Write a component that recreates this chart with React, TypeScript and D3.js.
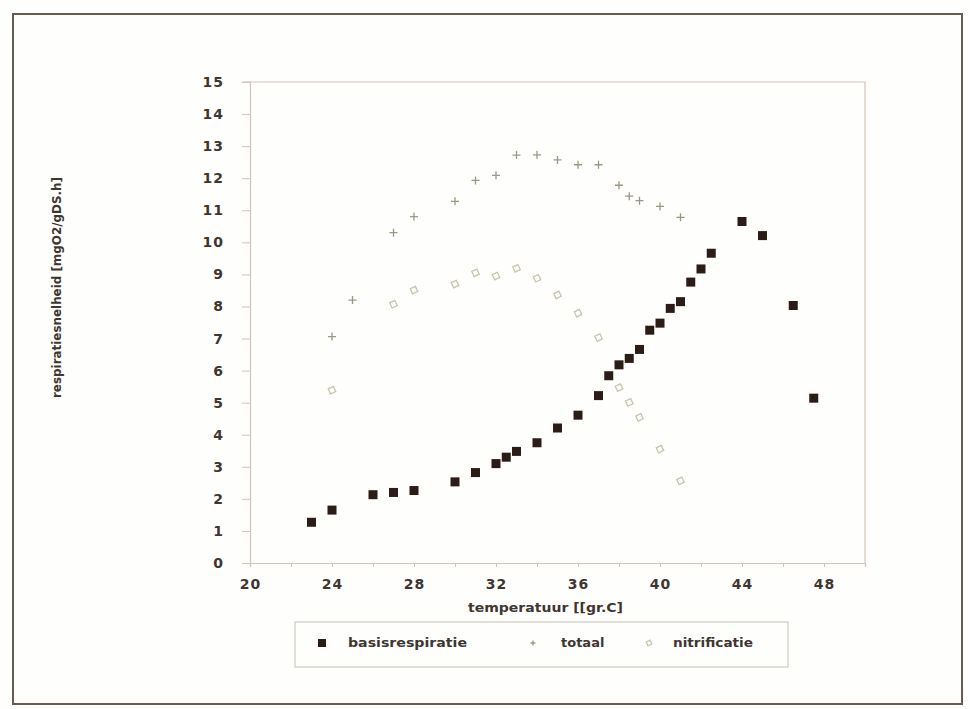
import * as d3 from 'd3';
import { useEffect, useRef } from 'react';

// temperature (gr.C) for each series
const basisTemp = [23, 24, 26, 27, 28, 30, 31, 32, 32.5, 33, 34, 35, 36, 37, 37.5, 38, 38.5, 39, 39.5, 40, 40.5, 41, 41.5, 42, 42.5, 44, 45, 46.5, 47.5];
const basisValues = [1.27, 1.65, 2.13, 2.2, 2.26, 2.53, 2.82, 3.1, 3.3, 3.48, 3.75, 4.21, 4.61, 5.22, 5.84, 6.18, 6.38, 6.66, 7.26, 7.48, 7.94, 8.15, 8.76, 9.17, 9.66, 10.65, 10.21, 8.03, 5.14];

const totaalTemp = [24, 25, 27, 28, 30, 31, 32, 33, 34, 35, 36, 37, 38, 38.5, 39, 40, 41];
const totaalValues = [7.06, 8.2, 10.3, 10.8, 11.28, 11.93, 12.09, 12.72, 12.73, 12.57, 12.42, 12.42, 11.78, 11.44, 11.3, 11.12, 10.78];

const nitriTemp = [24, 27, 28, 30, 31, 32, 33, 34, 35, 36, 37, 38, 38.5, 39, 40, 41];
const nitriValues = [5.39, 8.07, 8.51, 8.7, 9.05, 8.95, 9.19, 8.88, 8.36, 7.79, 7.03, 5.47, 5.01, 4.54, 3.55, 2.56];

const xTicks = [20, 22, 24, 26, 28, 30, 32, 34, 36, 38, 40, 42, 44, 46, 48, 50];
const xTickLabels = [20, 24, 28, 32, 36, 40, 44, 48];
const yTicks = d3.range(0, 16);

const legendLabels = ['basisrespiratie', 'totaal', 'nitrificatie'];

export default function App() {
  const svgRef = useRef(null);

  useEffect(() => {
    document.body.style.margin = '0';
    d3.select(svgRef.current).selectAll('*').remove();

    const width = 970;
    const height = 709;
    const marginLeft = 250;
    const marginRight = 105;
    const marginTop = 82;
    const marginBottom = 146;

    const textColor = '#3e3631';
    const axisColor = '#d6c2ba';
    const font = "'DejaVu Sans', Arial, sans-serif";

    const x = d3.scaleLinear([20, 50], [marginLeft, width - marginRight]);
    const y = d3.scaleLinear([0, 15], [height - marginBottom, marginTop]);

    const svg = d3.select(svgRef.current)
      .attr('viewBox', [0, 0, width, height])
      .attr('width', width)
      .attr('height', height)
      .style('display', 'block')
      .style('background', '#fefefd')
      .style('font-family', font);

    // outer frame
    svg.append('rect')
      .attr('x', 13).attr('y', 14)
      .attr('width', 949).attr('height', 690)
      .attr('fill', 'none')
      .attr('stroke', '#6a5a50')
      .attr('stroke-width', 2);

    // plot frame (top + right)
    svg.append('path')
      .attr('d', `M${x(20) - 8},${y(15)}H${x(50)}V${y(0)}`)
      .attr('fill', 'none')
      .attr('stroke', axisColor)
      .attr('stroke-width', 1.2);

    const tickText = g => g.selectAll('text')
      .attr('fill', textColor)
      .attr('font-family', font)
      .attr('font-size', 14)
      .attr('font-weight', 'bold')
      .attr('letter-spacing', 1);

    // y axis
    svg.append('g')
      .attr('transform', `translate(${marginLeft},0)`)
      .call(d3.axisLeft(y).tickValues(yTicks).tickSize(8).tickPadding(18).tickFormat(d3.format('d')))
      .call(g => g.select('.domain').attr('stroke', axisColor).attr('stroke-width', 1.2))
      .call(g => g.selectAll('.tick line').attr('stroke', axisColor))
      .call(tickText);

    // x axis
    svg.append('g')
      .attr('transform', `translate(0,${height - marginBottom})`)
      .call(d3.axisBottom(x).tickValues(xTicks).tickSize(4).tickPadding(12)
        .tickFormat(d => xTickLabels.includes(d) ? String(d) : ''))
      .call(g => g.select('.domain').attr('stroke', axisColor).attr('stroke-width', 1.2))
      .call(g => g.selectAll('.tick line').attr('stroke', axisColor))
      .call(tickText);

    // axis titles
    svg.append('text')
      .attr('x', 468).attr('y', 612)
      .attr('fill', textColor)
      .attr('font-size', 13)
      .attr('font-weight', 'bold')
      .attr('textLength', 155)
      .attr('lengthAdjust', 'spacingAndGlyphs')
      .text('temperatuur  [[gr.C]');

    svg.append('text')
      .attr('transform', 'translate(61,398) rotate(-90)')
      .attr('fill', textColor)
      .attr('font-size', 12)
      .attr('font-weight', 'bold')
      .attr('textLength', 221)
      .attr('lengthAdjust', 'spacingAndGlyphs')
      .text('respiratiesnelheid  [mgO2/gDS.h]');

    // marker shapes
    const square = (g, cx, cy, s) => g.append('rect')
      .attr('x', cx - s / 2).attr('y', cy - s / 2)
      .attr('width', s).attr('height', s)
      .attr('fill', '#2b1c17');

    const plus = (g, cx, cy, s) => g.append('path')
      .attr('d', `M${cx - s},${cy}H${cx + s}M${cx},${cy - s}V${cy + s}`)
      .attr('stroke', '#9d9684')
      .attr('stroke-width', 1.3)
      .attr('fill', 'none');

    const diamond = (g, cx, cy, s) => g.append('path')
      .attr('d', `M${cx},${cy - s}L${cx + s},${cy}L${cx},${cy + s}L${cx - s},${cy}Z`)
      .attr('transform', `rotate(20,${cx},${cy})`)
      .attr('stroke', '#c9c4ae')
      .attr('stroke-width', 1.3)
      .attr('fill', 'none');

    const marks = svg.append('g');
    nitriTemp.forEach((t, i) => diamond(marks, x(t), y(nitriValues[i]), 4));
    totaalTemp.forEach((t, i) => plus(marks, x(t), y(totaalValues[i]), 4));
    basisTemp.forEach((t, i) => square(marks, x(t), y(basisValues[i]), 9));

    // legend
    const legend = svg.append('g');
    legend.append('rect')
      .attr('x', 295).attr('y', 622)
      .attr('width', 493).attr('height', 45)
      .attr('fill', 'none')
      .attr('stroke', '#cfc8c0')
      .attr('stroke-width', 1.2);

    const items = [
      { label: legendLabels[0], mx: 322, tx: 348, len: 119, draw: square, s: 8 },
      { label: legendLabels[1], mx: 533, tx: 561, len: null, draw: plus, s: 2.5 },
      { label: legendLabels[2], mx: 649, tx: 673, len: 80, draw: diamond, s: 3 },
    ];
    items.forEach(it => {
      it.draw(legend, it.mx, 643, it.s);
      const t = legend.append('text')
        .attr('x', it.tx).attr('y', 647)
        .attr('fill', textColor)
        .attr('font-size', 13)
        .attr('font-weight', 'bold')
        .text(it.label);
      if (it.len) t.attr('textLength', it.len).attr('lengthAdjust', 'spacingAndGlyphs');
    });
  }, []);

  return <svg ref={svgRef} />;
}
